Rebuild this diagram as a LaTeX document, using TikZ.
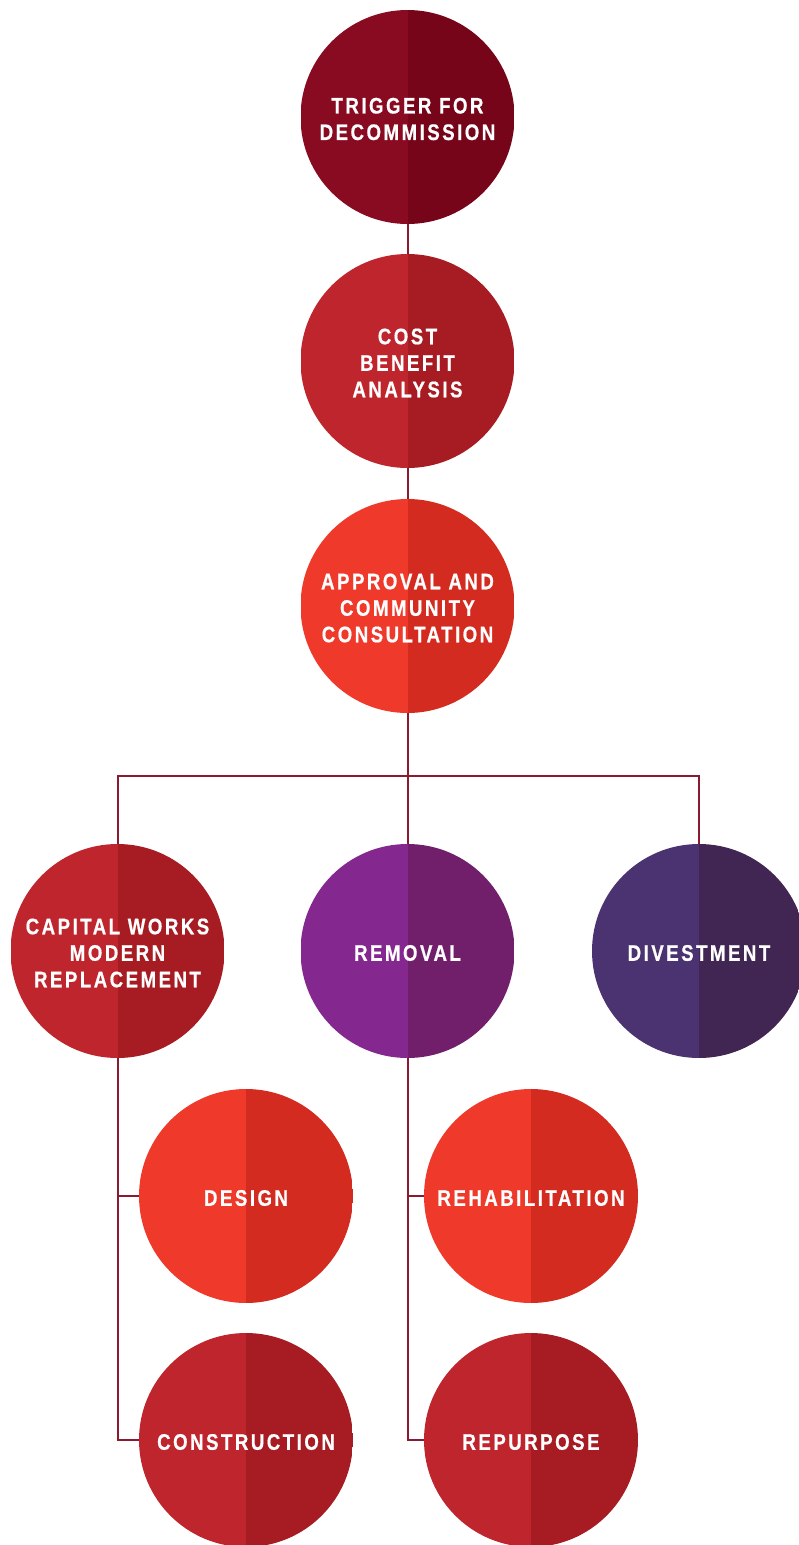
\documentclass[tikz,border=0pt]{standalone}
\usepackage{fontspec}
\newfontfamily\bubfont{Liberation Sans Bold}[FakeStretch=0.83,LetterSpace=11,FakeBold=0.6]
\definecolor{trigL}{HTML}{880B21}
\definecolor{trigR}{HTML}{76051A}
\definecolor{redL}{HTML}{BF252D}
\definecolor{redR}{HTML}{A71C23}
\definecolor{orL}{HTML}{EF3A2B}
\definecolor{orR}{HTML}{D42B20}
\definecolor{purL}{HTML}{84288F}
\definecolor{purR}{HTML}{711E6B}
\definecolor{vioL}{HTML}{4A3370}
\definecolor{vioR}{HTML}{412553}
\definecolor{lineC}{HTML}{8B1A30}
\tikzset{
  bub/.style 2 args={circle, minimum size=214pt, inner sep=0pt,
    path picture={
      \fill[#1] (path picture bounding box.south west) rectangle (path picture bounding box.north);
      \fill[#2] (path picture bounding box.north) rectangle (path picture bounding box.south east);
    }},
  bubtxt/.style={text=white, inner sep=0pt, align=center, yshift=-2pt,
    font=\bubfont\fontsize{22.5}{26.5}\selectfont},
  conn/.style={draw=lineC, line width=2pt}
}
\begin{document}
\begin{tikzpicture}[x=1pt,y=-1pt]
\useasboundingbox (0,0) rectangle (799,1545);
\clip (0,0) rectangle (799,1545);
\node[bub={trigL}{trigR}, label={[bubtxt]center:TRIGGER FOR\\DECOMMISSION}] (c1) at (407.5,117) {};
\node[bub={redL}{redR}, label={[bubtxt]center:COST\\BENEFIT\\ANALYSIS}] (c2) at (407.5,361) {};
\node[bub={orL}{orR}, label={[bubtxt]center:APPROVAL AND\\COMMUNITY\\CONSULTATION}] (c3) at (407.5,606) {};
\node[bub={redL}{redR}, label={[bubtxt]center:CAPITAL WORKS\\MODERN\\REPLACEMENT}] (c4a) at (117.5,951) {};
\node[bub={purL}{purR}, label={[bubtxt]center:REMOVAL}] (c4b) at (407.5,951) {};
\node[bub={vioL}{vioR}, label={[bubtxt]center:DIVESTMENT}] (c4c) at (699,951) {};
\node[bub={orL}{orR}, label={[bubtxt]center:DESIGN}] (c5a) at (246,1196) {};
\node[bub={redL}{redR}, label={[bubtxt]center:CONSTRUCTION}] (c6a) at (246,1440) {};
\node[bub={orL}{orR}, label={[bubtxt]center:REHABILITATION}] (c5b) at (531,1196) {};
\node[bub={redL}{redR}, label={[bubtxt]center:REPURPOSE}] (c6b) at (531,1440) {};
\coordinate (j) at (407.5,776);
\draw[conn] (c1.south) -- (c2.north);
\draw[conn] (c2.south) -- (c3.north);
\draw[conn] (c3.south) -- (j);
\draw[conn] (c4a.north) |- (j) -| (c4c.north);
\draw[conn] (j) -- (c4b.north);
\draw[conn] (c4a.south) |- (c6a.west);
\draw[conn] (c4a.south |- c5a.west) -- (c5a.west);
\draw[conn] (c4b.south) |- (c6b.west);
\draw[conn] (c4b.south |- c5b.west) -- (c5b.west);
\end{tikzpicture}
\end{document}
